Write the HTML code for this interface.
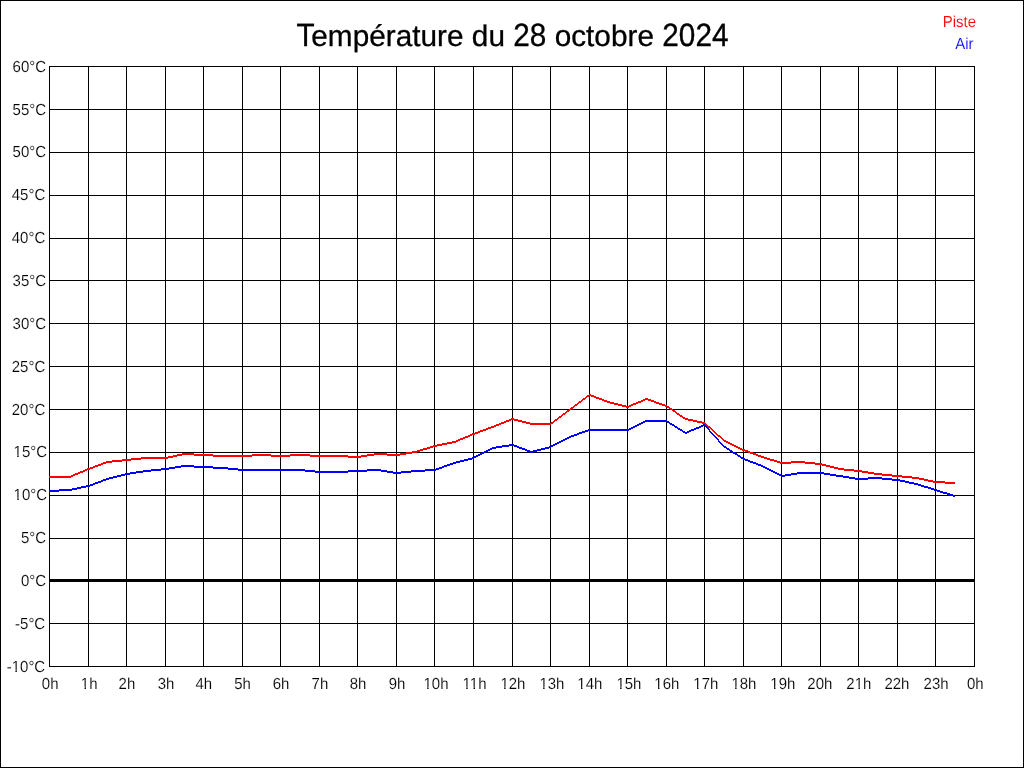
<!DOCTYPE html>
<html><head><meta charset="utf-8"><title>Température du 28 octobre 2024</title>
<style>
html,body{margin:0;padding:0;background:#fff;}
svg{display:block;font-family:"Liberation Sans",sans-serif;}

</style></head><body>
<svg width="1024" height="768" viewBox="0 0 1024 768">
<rect x="0" y="0" width="1024" height="768" fill="#fff"/>
<rect x="0.5" y="0.5" width="1023" height="767" fill="none" stroke="#000" stroke-width="1"/>
<g fill="#000"><rect x="49" y="66" width="1" height="601"/><rect x="88" y="66" width="1" height="601"/><rect x="126" y="66" width="1" height="601"/><rect x="165" y="66" width="1" height="601"/><rect x="203" y="66" width="1" height="601"/><rect x="242" y="66" width="1" height="601"/><rect x="280" y="66" width="1" height="601"/><rect x="319" y="66" width="1" height="601"/><rect x="357" y="66" width="1" height="601"/><rect x="396" y="66" width="1" height="601"/><rect x="434" y="66" width="1" height="601"/><rect x="473" y="66" width="1" height="601"/><rect x="512" y="66" width="1" height="601"/><rect x="550" y="66" width="1" height="601"/><rect x="589" y="66" width="1" height="601"/><rect x="627" y="66" width="1" height="601"/><rect x="666" y="66" width="1" height="601"/><rect x="704" y="66" width="1" height="601"/><rect x="743" y="66" width="1" height="601"/><rect x="781" y="66" width="1" height="601"/><rect x="820" y="66" width="1" height="601"/><rect x="858" y="66" width="1" height="601"/><rect x="897" y="66" width="1" height="601"/><rect x="935" y="66" width="1" height="601"/><rect x="974" y="66" width="1" height="601"/><rect x="49" y="66" width="926" height="1"/><rect x="49" y="109" width="926" height="1"/><rect x="49" y="152" width="926" height="1"/><rect x="49" y="195" width="926" height="1"/><rect x="49" y="238" width="926" height="1"/><rect x="49" y="280" width="926" height="1"/><rect x="49" y="323" width="926" height="1"/><rect x="49" y="366" width="926" height="1"/><rect x="49" y="409" width="926" height="1"/><rect x="49" y="452" width="926" height="1"/><rect x="49" y="495" width="926" height="1"/><rect x="49" y="538" width="926" height="1"/><rect x="49" y="579" width="926" height="3"/><rect x="49" y="623" width="926" height="1"/><rect x="49" y="666" width="926" height="1"/></g>
<path d="M589 394h2v1h-2zM587 395h7v1h-7zM586 396h3v1h-3zM591 396h5v1h-5zM585 397h2v1h-2zM594 397h5v1h-5zM583 398h3v1h-3zM596 398h6v1h-6zM645 398h3v1h-3zM582 399h3v1h-3zM599 399h5v1h-5zM643 399h8v1h-8zM581 400h2v1h-2zM602 400h5v1h-5zM641 400h4v1h-4zM648 400h6v1h-6zM579 401h3v1h-3zM604 401h6v1h-6zM638 401h5v1h-5zM651 401h5v1h-5zM578 402h3v1h-3zM607 402h7v1h-7zM636 402h5v1h-5zM654 402h5v1h-5zM577 403h2v1h-2zM610 403h8v1h-8zM633 403h5v1h-5zM656 403h6v1h-6zM575 404h3v1h-3zM614 404h8v1h-8zM631 404h5v1h-5zM659 404h6v1h-6zM574 405h3v1h-3zM618 405h8v1h-8zM629 405h4v1h-4zM662 405h5v1h-5zM573 406h2v1h-2zM622 406h9v1h-9zM665 406h4v1h-4zM571 407h3v1h-3zM626 407h3v1h-3zM667 407h3v1h-3zM570 408h3v1h-3zM669 408h3v1h-3zM569 409h2v1h-2zM670 409h3v1h-3zM567 410h3v1h-3zM672 410h3v1h-3zM566 411h3v1h-3zM673 411h3v1h-3zM565 412h2v1h-2zM675 412h2v1h-2zM563 413h3v1h-3zM676 413h3v1h-3zM562 414h3v1h-3zM677 414h3v1h-3zM561 415h2v1h-2zM679 415h3v1h-3zM559 416h3v1h-3zM680 416h3v1h-3zM558 417h3v1h-3zM682 417h3v1h-3zM511 418h3v1h-3zM557 418h2v1h-2zM683 418h5v1h-5zM509 419h9v1h-9zM555 419h3v1h-3zM685 419h8v1h-8zM506 420h5v1h-5zM514 420h8v1h-8zM554 420h3v1h-3zM688 420h9v1h-9zM504 421h5v1h-5zM518 421h8v1h-8zM553 421h2v1h-2zM693 421h9v1h-9zM501 422h5v1h-5zM522 422h8v1h-8zM551 422h3v1h-3zM697 422h8v1h-8zM499 423h5v1h-5zM526 423h27v1h-27zM702 423h4v1h-4zM496 424h5v1h-5zM530 424h21v1h-21zM705 424h2v1h-2zM494 425h5v1h-5zM706 425h2v1h-2zM491 426h5v1h-5zM707 426h3v1h-3zM488 427h6v1h-6zM708 427h3v1h-3zM486 428h5v1h-5zM710 428h2v1h-2zM483 429h5v1h-5zM711 429h2v1h-2zM480 430h6v1h-6zM712 430h2v1h-2zM478 431h5v1h-5zM713 431h2v1h-2zM475 432h5v1h-5zM714 432h2v1h-2zM472 433h6v1h-6zM715 433h2v1h-2zM470 434h5v1h-5zM716 434h2v1h-2zM468 435h4v1h-4zM717 435h3v1h-3zM465 436h5v1h-5zM718 436h3v1h-3zM463 437h5v1h-5zM720 437h2v1h-2zM460 438h5v1h-5zM721 438h2v1h-2zM458 439h5v1h-5zM722 439h2v1h-2zM456 440h4v1h-4zM723 440h3v1h-3zM452 441h6v1h-6zM724 441h4v1h-4zM447 442h9v1h-9zM726 442h4v1h-4zM442 443h10v1h-10zM728 443h4v1h-4zM437 444h10v1h-10zM730 444h4v1h-4zM433 445h9v1h-9zM732 445h4v1h-4zM430 446h7v1h-7zM734 446h4v1h-4zM427 447h6v1h-6zM736 447h4v1h-4zM423 448h7v1h-7zM738 448h4v1h-4zM420 449h7v1h-7zM740 449h5v1h-5zM417 450h6v1h-6zM742 450h6v1h-6zM412 451h8v1h-8zM745 451h5v1h-5zM406 452h11v1h-11zM748 452h5v1h-5zM182 453h12v1h-12zM374 453h13v1h-13zM400 453h12v1h-12zM750 453h6v1h-6zM177 454h36v1h-36zM252 454h19v1h-19zM290 454h20v1h-20zM367 454h39v1h-39zM753 454h5v1h-5zM173 455h9v1h-9zM194 455h154v1h-154zM361 455h13v1h-13zM387 455h13v1h-13zM756 455h5v1h-5zM168 456h9v1h-9zM213 456h39v1h-39zM271 456h19v1h-19zM310 456h57v1h-57zM758 456h6v1h-6zM141 457h32v1h-32zM348 457h13v1h-13zM761 457h6v1h-6zM131 458h37v1h-37zM764 458h6v1h-6zM122 459h19v1h-19zM767 459h7v1h-7zM112 460h19v1h-19zM770 460h7v1h-7zM106 461h16v1h-16zM774 461h6v1h-6zM791 461h14v1h-14zM103 462h9v1h-9zM777 462h38v1h-38zM101 463h5v1h-5zM780 463h11v1h-11zM805 463h17v1h-17zM98 464h5v1h-5zM815 464h11v1h-11zM95 465h6v1h-6zM822 465h8v1h-8zM93 466h5v1h-5zM826 466h8v1h-8zM90 467h5v1h-5zM830 467h8v1h-8zM87 468h6v1h-6zM834 468h10v1h-10zM85 469h5v1h-5zM838 469h16v1h-16zM83 470h4v1h-4zM844 470h18v1h-18zM80 471h5v1h-5zM854 471h14v1h-14zM78 472h5v1h-5zM862 472h12v1h-12zM75 473h5v1h-5zM868 473h14v1h-14zM73 474h5v1h-5zM874 474h18v1h-18zM71 475h4v1h-4zM882 475h20v1h-20zM49 476h24v1h-24zM892 476h20v1h-20zM49 477h22v1h-22zM902 477h17v1h-17zM912 478h12v1h-12zM919 479h9v1h-9zM924 480h9v1h-9zM928 481h17v1h-17zM933 482h22v1h-22zM945 483h10v1h-10z" fill="#ff0000" shape-rendering="crispEdges"/>
<path d="M645 420h22v1h-22zM643 421h26v1h-26zM641 422h4v1h-4zM667 422h3v1h-3zM639 423h4v1h-4zM669 423h3v1h-3zM637 424h4v1h-4zM670 424h4v1h-4zM703 424h2v1h-2zM635 425h4v1h-4zM672 425h3v1h-3zM701 425h5v1h-5zM633 426h4v1h-4zM674 426h3v1h-3zM699 426h4v1h-4zM705 426h2v1h-2zM631 427h4v1h-4zM675 427h3v1h-3zM696 427h5v1h-5zM706 427h2v1h-2zM629 428h4v1h-4zM677 428h3v1h-3zM694 428h5v1h-5zM707 428h2v1h-2zM588 429h43v1h-43zM678 429h4v1h-4zM691 429h5v1h-5zM708 429h2v1h-2zM585 430h44v1h-44zM680 430h3v1h-3zM689 430h5v1h-5zM709 430h1v1h-1zM582 431h6v1h-6zM682 431h3v1h-3zM687 431h4v1h-4zM709 431h2v1h-2zM579 432h6v1h-6zM683 432h6v1h-6zM710 432h2v1h-2zM577 433h5v1h-5zM685 433h2v1h-2zM711 433h2v1h-2zM574 434h5v1h-5zM712 434h2v1h-2zM571 435h6v1h-6zM713 435h2v1h-2zM569 436h5v1h-5zM714 436h2v1h-2zM567 437h4v1h-4zM715 437h2v1h-2zM565 438h4v1h-4zM716 438h2v1h-2zM563 439h4v1h-4zM717 439h2v1h-2zM561 440h4v1h-4zM718 440h1v1h-1zM559 441h4v1h-4zM718 441h2v1h-2zM557 442h4v1h-4zM719 442h2v1h-2zM555 443h4v1h-4zM720 443h2v1h-2zM509 444h5v1h-5zM553 444h4v1h-4zM721 444h2v1h-2zM502 445h15v1h-15zM551 445h4v1h-4zM722 445h2v1h-2zM496 446h13v1h-13zM514 446h5v1h-5zM549 446h4v1h-4zM723 446h3v1h-3zM492 447h10v1h-10zM517 447h5v1h-5zM545 447h6v1h-6zM724 447h3v1h-3zM490 448h6v1h-6zM519 448h6v1h-6zM541 448h8v1h-8zM726 448h3v1h-3zM488 449h4v1h-4zM522 449h5v1h-5zM537 449h8v1h-8zM727 449h3v1h-3zM486 450h4v1h-4zM525 450h5v1h-5zM533 450h8v1h-8zM729 450h3v1h-3zM484 451h4v1h-4zM527 451h10v1h-10zM730 451h3v1h-3zM482 452h4v1h-4zM530 452h3v1h-3zM732 452h3v1h-3zM480 453h4v1h-4zM733 453h4v1h-4zM478 454h4v1h-4zM735 454h3v1h-3zM476 455h4v1h-4zM737 455h3v1h-3zM474 456h4v1h-4zM738 456h3v1h-3zM472 457h4v1h-4zM740 457h3v1h-3zM468 458h6v1h-6zM741 458h4v1h-4zM464 459h8v1h-8zM743 459h5v1h-5zM460 460h8v1h-8zM745 460h5v1h-5zM456 461h8v1h-8zM748 461h5v1h-5zM453 462h7v1h-7zM750 462h6v1h-6zM450 463h6v1h-6zM753 463h5v1h-5zM447 464h6v1h-6zM756 464h5v1h-5zM181 465h13v1h-13zM444 465h6v1h-6zM758 465h5v1h-5zM175 466h38v1h-38zM442 466h5v1h-5zM761 466h4v1h-4zM169 467h12v1h-12zM194 467h34v1h-34zM439 467h5v1h-5zM763 467h4v1h-4zM161 468h14v1h-14zM213 468h25v1h-25zM436 468h6v1h-6zM765 468h4v1h-4zM151 469h18v1h-18zM228 469h77v1h-77zM367 469h14v1h-14zM425 469h14v1h-14zM767 469h4v1h-4zM143 470h18v1h-18zM238 470h77v1h-77zM348 470h39v1h-39zM411 470h25v1h-25zM769 470h4v1h-4zM136 471h15v1h-15zM305 471h62v1h-62zM381 471h12v1h-12zM401 471h24v1h-24zM771 471h4v1h-4zM130 472h13v1h-13zM315 472h33v1h-33zM387 472h24v1h-24zM773 472h4v1h-4zM797 472h27v1h-27zM125 473h11v1h-11zM393 473h8v1h-8zM775 473h4v1h-4zM791 473h39v1h-39zM121 474h9v1h-9zM777 474h4v1h-4zM785 474h12v1h-12zM824 474h12v1h-12zM117 475h8v1h-8zM779 475h12v1h-12zM830 475h13v1h-13zM113 476h8v1h-8zM781 476h4v1h-4zM836 476h13v1h-13zM109 477h8v1h-8zM843 477h12v1h-12zM868 477h14v1h-14zM106 478h7v1h-7zM849 478h43v1h-43zM103 479h6v1h-6zM855 479h13v1h-13zM882 479h18v1h-18zM101 480h5v1h-5zM892 480h13v1h-13zM98 481h5v1h-5zM900 481h9v1h-9zM95 482h6v1h-6zM905 482h9v1h-9zM93 483h5v1h-5zM909 483h9v1h-9zM90 484h5v1h-5zM914 484h7v1h-7zM86 485h7v1h-7zM918 485h6v1h-6zM81 486h9v1h-9zM921 486h7v1h-7zM77 487h9v1h-9zM924 487h7v1h-7zM72 488h9v1h-9zM928 488h6v1h-6zM59 489h18v1h-18zM931 489h6v1h-6zM49 490h23v1h-23zM934 490h6v1h-6zM49 491h10v1h-10zM937 491h6v1h-6zM940 492h7v1h-7zM943 493h7v1h-7zM947 494h6v1h-6zM950 495h5v1h-5zM953 496h2v1h-2z" fill="#0000ff" shape-rendering="crispEdges"/>
<g opacity="0.999"><text x="0" y="0" transform="translate(46.1,72.15) scale(1.0,1.07) skewX(0.1)" text-anchor="end" font-size="15" fill="#000" stroke="#fff" stroke-width="0.12">60°C</text>
<text x="0" y="0" transform="translate(46.1,115.15) scale(1.0,1.07) skewX(0.1)" text-anchor="end" font-size="15" fill="#000" stroke="#fff" stroke-width="0.12">55°C</text>
<text x="0" y="0" transform="translate(46.1,157.15) scale(1.0,1.07) skewX(0.1)" text-anchor="end" font-size="15" fill="#000" stroke="#fff" stroke-width="0.12">50°C</text>
<text x="0" y="0" transform="translate(45.2,200.15) scale(1.0,1.07) skewX(0.1)" text-anchor="end" font-size="15" fill="#000" stroke="#fff" stroke-width="0.12">45°C</text>
<text x="0" y="0" transform="translate(45.2,243.15) scale(1.0,1.07) skewX(0.1)" text-anchor="end" font-size="15" fill="#000" stroke="#fff" stroke-width="0.12">40°C</text>
<text x="0" y="0" transform="translate(46.1,286.15) scale(1.0,1.07) skewX(0.1)" text-anchor="end" font-size="15" fill="#000" stroke="#fff" stroke-width="0.12">35°C</text>
<text x="0" y="0" transform="translate(46.1,329.15) scale(1.0,1.07) skewX(0.1)" text-anchor="end" font-size="15" fill="#000" stroke="#fff" stroke-width="0.12">30°C</text>
<text x="0" y="0" transform="translate(45.2,372.15) scale(1.0,1.07) skewX(0.1)" text-anchor="end" font-size="15" fill="#000" stroke="#fff" stroke-width="0.12">25°C</text>
<text x="0" y="0" transform="translate(45.2,415.15) scale(1.0,1.07) skewX(0.1)" text-anchor="end" font-size="15" fill="#000" stroke="#fff" stroke-width="0.12">20°C</text>
<text x="0" y="0" transform="translate(47.1,457.15) scale(1.0,1.07) skewX(0.1)" text-anchor="end" font-size="15" fill="#000" stroke="#fff" stroke-width="0.12">15°C</text>
<text x="0" y="0" transform="translate(47.1,500.15) scale(1.0,1.07) skewX(0.1)" text-anchor="end" font-size="15" fill="#000" stroke="#fff" stroke-width="0.12">10°C</text>
<text x="0" y="0" transform="translate(46.1,543.15) scale(1.0,1.07) skewX(0.1)" text-anchor="end" font-size="15" fill="#000" stroke="#fff" stroke-width="0.12">5°C</text>
<text x="0" y="0" transform="translate(46.1,586.15) scale(1.0,1.07) skewX(0.1)" text-anchor="end" font-size="15" fill="#000" stroke="#fff" stroke-width="0.12">0°C</text>
<text x="0" y="0" transform="translate(45.2,629.15) scale(1.0,1.07) skewX(0.1)" text-anchor="end" font-size="15" fill="#000" stroke="#fff" stroke-width="0.12">-5°C</text>
<text x="0" y="0" transform="translate(45.2,672.15) scale(1.0,1.07) skewX(0.1)" text-anchor="end" font-size="15" fill="#000" stroke="#fff" stroke-width="0.12">-10°C</text>
<text x="0" y="0" transform="translate(41.848000000000006,689.1) scale(1.0,1.07) skewX(0.1)" text-anchor="start" font-size="15" fill="#000" stroke="#fff" stroke-width="0.12">0h</text>
<text x="0" y="0" transform="translate(80.798,689.1) scale(1.0,1.07) skewX(0.1)" text-anchor="start" font-size="15" fill="#000" stroke="#fff" stroke-width="0.12">1h</text>
<text x="0" y="0" transform="translate(118.578,689.1) scale(1.0,1.07) skewX(0.1)" text-anchor="start" font-size="15" fill="#000" stroke="#fff" stroke-width="0.12">2h</text>
<text x="0" y="0" transform="translate(157.698,689.1) scale(1.0,1.07) skewX(0.1)" text-anchor="start" font-size="15" fill="#000" stroke="#fff" stroke-width="0.12">3h</text>
<text x="0" y="0" transform="translate(195.388,689.1) scale(1.0,1.07) skewX(0.1)" text-anchor="start" font-size="15" fill="#000" stroke="#fff" stroke-width="0.12">4h</text>
<text x="0" y="0" transform="translate(234.198,689.1) scale(1.0,1.07) skewX(0.1)" text-anchor="start" font-size="15" fill="#000" stroke="#fff" stroke-width="0.12">5h</text>
<text x="0" y="0" transform="translate(272.64799999999997,689.1) scale(1.0,1.07) skewX(0.1)" text-anchor="start" font-size="15" fill="#000" stroke="#fff" stroke-width="0.12">6h</text>
<text x="0" y="0" transform="translate(311.568,689.1) scale(1.0,1.07) skewX(0.1)" text-anchor="start" font-size="15" fill="#000" stroke="#fff" stroke-width="0.12">7h</text>
<text x="0" y="0" transform="translate(349.758,689.1) scale(1.0,1.07) skewX(0.1)" text-anchor="start" font-size="15" fill="#000" stroke="#fff" stroke-width="0.12">8h</text>
<text x="0" y="0" transform="translate(388.77799999999996,689.1) scale(1.0,1.07) skewX(0.1)" text-anchor="start" font-size="15" fill="#000" stroke="#fff" stroke-width="0.12">9h</text>
<text x="0" y="0" transform="translate(423.46200000000005,689.1) scale(1.0,1.07) skewX(0.1)" text-anchor="start" font-size="15" fill="#000" stroke="#fff" stroke-width="0.12">10h</text>
<text x="0" y="0" transform="translate(462.59200000000004,689.1) scale(1.0,1.07) skewX(0.1)" text-anchor="start" font-size="15" fill="#000" stroke="#fff" stroke-width="0.12">11h</text>
<text x="0" y="0" transform="translate(500.452,689.1) scale(1.0,1.07) skewX(0.1)" text-anchor="start" font-size="15" fill="#000" stroke="#fff" stroke-width="0.12">12h</text>
<text x="0" y="0" transform="translate(539.452,689.1) scale(1.0,1.07) skewX(0.1)" text-anchor="start" font-size="15" fill="#000" stroke="#fff" stroke-width="0.12">13h</text>
<text x="0" y="0" transform="translate(577.352,689.1) scale(1.0,1.07) skewX(0.1)" text-anchor="start" font-size="15" fill="#000" stroke="#fff" stroke-width="0.12">14h</text>
<text x="0" y="0" transform="translate(616.452,689.1) scale(1.0,1.07) skewX(0.1)" text-anchor="start" font-size="15" fill="#000" stroke="#fff" stroke-width="0.12">15h</text>
<text x="0" y="0" transform="translate(654.352,689.1) scale(1.0,1.07) skewX(0.1)" text-anchor="start" font-size="15" fill="#000" stroke="#fff" stroke-width="0.12">16h</text>
<text x="0" y="0" transform="translate(693.352,689.1) scale(1.0,1.07) skewX(0.1)" text-anchor="start" font-size="15" fill="#000" stroke="#fff" stroke-width="0.12">17h</text>
<text x="0" y="0" transform="translate(731.452,689.1) scale(1.0,1.07) skewX(0.1)" text-anchor="start" font-size="15" fill="#000" stroke="#fff" stroke-width="0.12">18h</text>
<text x="0" y="0" transform="translate(770.352,689.1) scale(1.0,1.07) skewX(0.1)" text-anchor="start" font-size="15" fill="#000" stroke="#fff" stroke-width="0.12">19h</text>
<text x="0" y="0" transform="translate(807.352,689.1) scale(1.0,1.07) skewX(0.1)" text-anchor="start" font-size="15" fill="#000" stroke="#fff" stroke-width="0.12">20h</text>
<text x="0" y="0" transform="translate(846.352,689.1) scale(1.0,1.07) skewX(0.1)" text-anchor="start" font-size="15" fill="#000" stroke="#fff" stroke-width="0.12">21h</text>
<text x="0" y="0" transform="translate(884.452,689.1) scale(1.0,1.07) skewX(0.1)" text-anchor="start" font-size="15" fill="#000" stroke="#fff" stroke-width="0.12">22h</text>
<text x="0" y="0" transform="translate(923.5519999999999,689.1) scale(1.0,1.07) skewX(0.1)" text-anchor="start" font-size="15" fill="#000" stroke="#fff" stroke-width="0.12">23h</text>
<text x="0" y="0" transform="translate(966.8879999999999,689.1) scale(1.0,1.07) skewX(0.1)" text-anchor="start" font-size="15" fill="#000" stroke="#fff" stroke-width="0.12">0h</text>
<text x="0" y="0" transform="translate(296.388,46) scale(1.0,1.08) skewX(0.1)" text-anchor="start" font-size="29.79" fill="#000" stroke="#000" stroke-width="0.3">T</text>
<text x="0" y="0" transform="translate(311.263,46) scale(1.0,1.0) skewX(0.1)" text-anchor="start" font-size="29.79" fill="#000" stroke="#000" stroke-width="0.3">empérature du </text>
<text x="0" y="0" transform="translate(513.231,46) scale(1.0,1.08) skewX(0.1)" text-anchor="start" font-size="29.79" fill="#000" stroke="#000" stroke-width="0.3">28</text>
<text x="0" y="0" transform="translate(546.356,46) scale(1.0,1.0) skewX(0.1)" text-anchor="start" font-size="29.79" fill="#000" stroke="#000" stroke-width="0.3"> octobre </text>
<text x="0" y="0" transform="translate(662.247,46) scale(1.0,1.08) skewX(0.1)" text-anchor="start" font-size="29.79" fill="#000" stroke="#000" stroke-width="0.3">2024</text>
<text x="0" y="0" transform="translate(976,27) scale(1.0,1.07) skewX(0.1)" text-anchor="end" font-size="15" fill="#ff0000" stroke="#fff" stroke-width="0.12">Piste</text>
<text x="0" y="0" transform="translate(973.5,49) scale(1.0,1.07) skewX(0.1)" text-anchor="end" font-size="15" fill="#0000ff" stroke="#fff" stroke-width="0.12">Air</text></g>
<g fill="#fff"><rect x="13.79" y="454.65" width="3.52" height="3.0"/><rect x="18.73" y="454.65" width="3.11" height="3.0"/><rect x="13.79" y="497.65" width="3.52" height="3.0"/><rect x="18.73" y="497.65" width="3.11" height="3.0"/><rect x="11.89" y="669.65" width="3.52" height="3.0"/><rect x="16.83" y="669.65" width="3.11" height="3.0"/><rect x="81.00" y="686.60" width="3.52" height="3.0"/><rect x="85.94" y="686.60" width="3.11" height="3.0"/><rect x="423.66" y="686.60" width="3.52" height="3.0"/><rect x="428.60" y="686.60" width="3.11" height="3.0"/><rect x="462.79" y="686.60" width="3.52" height="3.0"/><rect x="467.73" y="686.60" width="3.11" height="3.0"/><rect x="470.02" y="686.60" width="3.52" height="3.0"/><rect x="474.96" y="686.60" width="3.11" height="3.0"/><rect x="500.65" y="686.60" width="3.52" height="3.0"/><rect x="505.59" y="686.60" width="3.11" height="3.0"/><rect x="539.65" y="686.60" width="3.52" height="3.0"/><rect x="544.59" y="686.60" width="3.11" height="3.0"/><rect x="577.55" y="686.60" width="3.52" height="3.0"/><rect x="582.49" y="686.60" width="3.11" height="3.0"/><rect x="616.65" y="686.60" width="3.52" height="3.0"/><rect x="621.59" y="686.60" width="3.11" height="3.0"/><rect x="654.55" y="686.60" width="3.52" height="3.0"/><rect x="659.49" y="686.60" width="3.11" height="3.0"/><rect x="693.55" y="686.60" width="3.52" height="3.0"/><rect x="698.49" y="686.60" width="3.11" height="3.0"/><rect x="731.65" y="686.60" width="3.52" height="3.0"/><rect x="736.59" y="686.60" width="3.11" height="3.0"/><rect x="770.55" y="686.60" width="3.52" height="3.0"/><rect x="775.49" y="686.60" width="3.11" height="3.0"/><rect x="854.89" y="686.60" width="3.52" height="3.0"/><rect x="859.83" y="686.60" width="3.11" height="3.0"/></g>
</svg>
</body></html>
